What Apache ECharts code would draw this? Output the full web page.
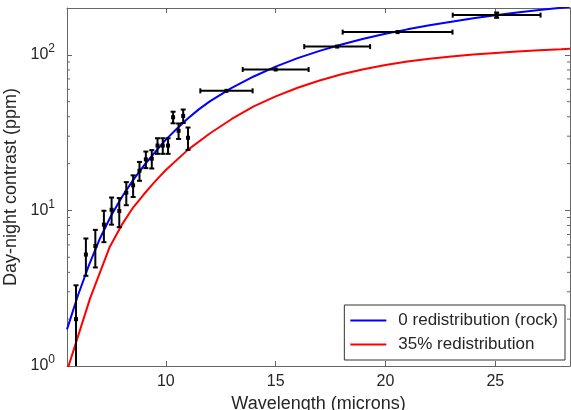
<!DOCTYPE html>
<html>
<head>
<meta charset="utf-8">
<script src="https://cdn.jsdelivr.net/npm/echarts@6/dist/echarts.min.js"></script>
<style>
html,body{margin:0;padding:0;background:#fff;}
#chart{width:571px;height:410px;}
</style>
</head>
<body>
<div id="chart"></div>
<script>
// Axis ticks
const waveTicks = [10, 15, 20, 25];
const contrastMinorTicks = [2, 3, 4, 5, 6, 7, 8, 9, 20, 30, 40, 50, 60, 70, 80, 90];

// Model curve: 0 redistribution (rock)
const rockWave = [5.5, 6, 6.5, 7, 7.5, 8, 8.5, 9, 9.5, 10, 10.5, 11, 11.5, 12, 13, 14, 15, 16, 17, 18, 19, 20, 21, 22, 23, 24, 25, 26, 27, 28, 28.4];
const rockContrast = [1.72, 2.85, 4.45, 6.6, 9.2, 12.2, 15.6, 19.4, 23.6, 28.5, 33.5, 39, 44.6, 50.2, 61.3, 72.6, 84, 95.2, 106, 116.5, 126.8, 136.5, 145.8, 154.8, 163.4, 171.6, 179.4, 186.9, 194, 200.8, 203.5];

// Model curve: 35% redistribution
const redistWave = [5.5, 6.55, 7.45, 8, 8.5, 9, 9.5, 10, 11, 12, 13, 14, 15, 16, 17, 18, 19, 20, 21, 22, 23, 24, 25, 26, 27, 28, 28.4];
const redistContrast = [0.93, 2.72, 5.85, 8.1, 10.4, 12.7, 15.3, 18.2, 24.5, 31.2, 38.7, 46.6, 54.1, 61.4, 68.4, 75.0, 80.9, 86.1, 90.6, 94.4, 97.7, 100.5, 102.8, 105.0, 106.9, 108.6, 109.4];

// Observations
const obsWave = [5.91, 6.36, 6.79, 7.18, 7.53, 7.88, 8.2, 8.51, 8.8, 9.09, 9.36, 9.62, 9.86, 10.1, 10.33, 10.58, 10.79, 11.01, 12.76, 15.0, 17.8, 20.55, 25.06];
const obsContrast = [2.0, 5.2, 5.9, 8.1, 10.1, 9.9, 13.0, 14.5, 18.0, 21.3, 21.5, 26.1, 26.1, 26.1, 39.7, 32.5, 40.5, 29.3, 58.7, 80.5, 113, 140, 180];
const obsContrastErr = [1.3, 1.4, 1.6, 1.85, 2.0, 2.1, 2.2, 2.3, 2.5, 2.6, 2.9, 3.0, 3.0, 3.0, 3.4, 3.7, 4.0, 4.8, 0, 0, 0, 0, 7];
const obsWaveErr = [0, 0, 0, 0, 0, 0, 0, 0, 0, 0, 0, 0, 0, 0, 0, 0, 0, 0, 1.19, 1.5, 1.5, 2.5, 2.0];

const xMin = 5.5, xMax = 28.4, yMin = 1, yMax = 200;
const axisColor = '#666';
const textColor = '#262626';
const fontFamily = '"Liberation Sans", Arial, sans-serif';

const chart = echarts.init(document.getElementById('chart'), null, {renderer: 'canvas'});

function pairs(xs, ys) { return xs.map((x, i) => [x, ys[i]]); }

const obsData = obsWave.map((x, i) => [x, obsContrast[i], obsWaveErr[i], obsContrastErr[i]]);
const minorData = contrastMinorTicks.map(v => [v]);

const option = {
  animation: false,
  backgroundColor: '#fff',
  textStyle: {fontFamily: fontFamily},
  grid: {left: 67, right: 1, top: 8, bottom: 44, containLabel: false, outerBoundsMode: 'none'},
  xAxis: [{
    type: 'value', min: xMin, max: xMax, position: 'bottom',
    name: 'Wavelength (microns)', nameLocation: 'middle', nameGap: 25,
    nameTextStyle: {fontSize: 18, color: textColor, fontFamily: fontFamily},
    axisLine: {show: true, onZero: false, lineStyle: {color: axisColor, width: 1}},
    axisTick: {show: true, inside: true, length: 5, customValues: waveTicks, lineStyle: {color: axisColor}},
    axisLabel: {show: true, customValues: waveTicks, margin: 8, fontSize: 16, color: textColor, fontFamily: fontFamily},
    splitLine: {show: false}
  }, {
    type: 'value', min: xMin, max: xMax, position: 'top',
    axisLine: {show: true, onZero: false, lineStyle: {color: axisColor, width: 1}},
    axisTick: {show: true, inside: true, length: 5, customValues: waveTicks, lineStyle: {color: axisColor}},
    axisLabel: {show: false},
    splitLine: {show: false}
  }],
  yAxis: [{
    type: 'log', logBase: 10, min: yMin, max: yMax, position: 'left',
    name: 'Day-night contrast (ppm)', nameLocation: 'middle', nameGap: 39, nameRotate: 90,
    nameTextStyle: {fontSize: 18, color: textColor, fontFamily: fontFamily},
    axisLine: {show: true, onZero: false, lineStyle: {color: axisColor, width: 1}},
    axisTick: {show: true, inside: true, length: 5, lineStyle: {color: axisColor}},
    axisLabel: {
      show: true, margin: 12, color: textColor, fontFamily: fontFamily,
      formatter: function (v) {
        const e = Math.round(Math.log10(v));
        if (Math.abs(v - Math.pow(10, e)) > 1e-6 * v) return '';
        return '{a|10}{b|' + e + '}';
      },
      rich: {
        a: {fontSize: 16, color: textColor, fontFamily: fontFamily, lineHeight: 24},
        b: {fontSize: 12, color: textColor, fontFamily: fontFamily, verticalAlign: 'top', lineHeight: 14}
      }
    },
    splitLine: {show: false}
  }, {
    type: 'log', logBase: 10, min: yMin, max: yMax, position: 'right',
    axisLine: {show: true, onZero: false, lineStyle: {color: axisColor, width: 1}},
    axisTick: {show: true, inside: true, length: 5, lineStyle: {color: axisColor}},
    axisLabel: {show: false},
    splitLine: {show: false}
  }],
  legend: {
    orient: 'vertical', right: 6, top: 305,
    padding: [7, 7, 7, 6], itemGap: 7, itemWidth: 36, itemHeight: 2,
    icon: 'rect',
    backgroundColor: '#fff', borderColor: '#333', borderWidth: 1, borderRadius: 0,
    textStyle: {fontSize: 17, lineHeight: 16, color: textColor, fontFamily: fontFamily, padding: [0, 0, 0, 7]},
    data: ['0 redistribution (rock)', '35% redistribution']
  },
  series: [{
    name: '0 redistribution (rock)', type: 'line', data: pairs(rockWave, rockContrast),
    symbol: 'none', showSymbol: false, smooth: false, clip: true,
    lineStyle: {color: '#0000ff', width: 2}, itemStyle: {color: '#0000ff'}, z: 2
  }, {
    name: '35% redistribution', type: 'line', data: pairs(redistWave, redistContrast),
    symbol: 'none', showSymbol: false, smooth: false, clip: true,
    lineStyle: {color: '#ff0000', width: 2}, itemStyle: {color: '#ff0000'}, z: 2
  }, {
    name: 'obs', type: 'custom', data: obsData, clip: true, z: 3,
    encode: {x: 0, y: 1},
    renderItem: function (params, api) {
      const x = api.value(0), y = api.value(1), xe = api.value(2), ye = api.value(3);
      const c = api.coord([x, y]);
      const st = {stroke: '#000', lineWidth: 2};
      const children = [];
      const cap = 2.5;
      if (ye > 0) {
        const t = api.coord([x, y + ye]);
        const b = api.coord([x, y - ye]);
        children.push({type: 'line', shape: {x1: c[0], y1: t[1], x2: c[0], y2: b[1]}, style: st});
        children.push({type: 'line', shape: {x1: c[0] - cap, y1: t[1], x2: c[0] + cap, y2: t[1]}, style: st});
        children.push({type: 'line', shape: {x1: c[0] - cap, y1: b[1], x2: c[0] + cap, y2: b[1]}, style: st});
      }
      if (xe > 0) {
        const l = api.coord([x - xe, y]);
        const r = api.coord([x + xe, y]);
        children.push({type: 'line', shape: {x1: l[0], y1: c[1], x2: r[0], y2: c[1]}, style: st});
        children.push({type: 'line', shape: {x1: l[0], y1: c[1] - cap, x2: l[0], y2: c[1] + cap}, style: st});
        children.push({type: 'line', shape: {x1: r[0], y1: c[1] - cap, x2: r[0], y2: c[1] + cap}, style: st});
      }
      children.push({type: 'rect', shape: {x: c[0] - 2, y: c[1] - 2, width: 4, height: 4}, style: {fill: '#000'}});
      return {type: 'group', children: children};
    }
  }, {
    name: 'minorTicks', type: 'custom', data: minorData, clip: false, z: 4, silent: true,
    encode: {y: 0},
    renderItem: function (params, api) {
      const v = api.value(0);
      const l = api.coord([xMin, v]);
      const r = api.coord([xMax, v]);
      const st = {stroke: axisColor, lineWidth: 1};
      return {type: 'group', children: [
        {type: 'line', shape: {x1: l[0], y1: l[1], x2: l[0] + 3, y2: l[1]}, style: st},
        {type: 'line', shape: {x1: r[0], y1: r[1], x2: r[0] - 3, y2: r[1]}, style: st}
      ]};
    }
  }]
};

chart.setOption(option);
</script>
</body>
</html>
